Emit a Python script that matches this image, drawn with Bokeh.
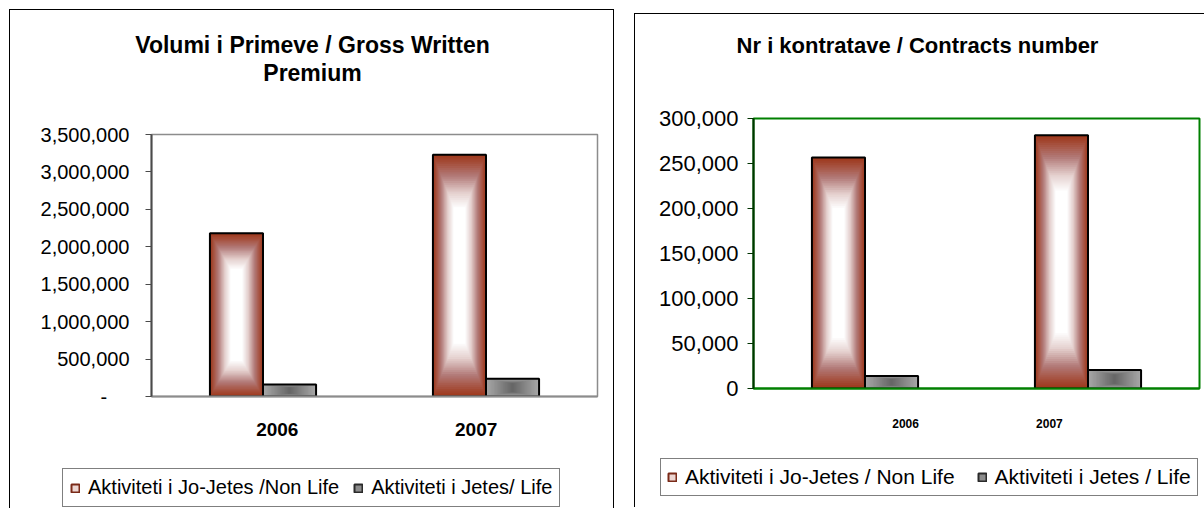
from bokeh.plotting import figure
from bokeh.models import Range1d, FixedTicker, NumeralTickFormatter, Legend, LegendItem
from bokeh.layouts import row, column
from bokeh.core.properties import value
from bokeh.embed import file_html
from bokeh.resources import INLINE

# ---------------- data ----------------
years = ["2006", "2007"]
left_series = ["Aktiviteti i Jo-Jetes /Non Life", "Aktiviteti i Jetes/ Life"]
right_series = ["Aktiviteti i Jo-Jetes / Non Life", "Aktiviteti i Jetes / Life"]
gwp_non_life = [2180000, 3230000]
gwp_life = [160000, 236000]
contracts_non_life = [256600, 281400]
contracts_life = [13900, 20600]
gwp_ticks = [0, 500000, 1000000, 1500000, 2000000, 2500000, 3000000, 3500000]
contract_ticks = [0, 50000, 100000, 150000, 200000, 250000, 300000]
left_title = ["Volumi i Primeve / Gross Written", "Premium"]
right_title = ["Nr i kontratave / Contracts number"]

FONT = "Liberation Sans"
NAN = float("nan")
RED_STOPS = [(0.0, (158, 56, 28)), (0.1, (164, 76, 56)), (0.3, (178, 122, 120)),
             (0.55, (228, 208, 206)), (0.78, (255, 255, 255)), (1.0, (255, 255, 255))]
GRAY_STOPS = [(0.0, (168, 168, 168)), (0.5, (135, 135, 135)), (1.0, (100, 100, 100))]


def interp(stops, t):
    for (t0, c0), (t1, c1) in zip(stops[:-1], stops[1:]):
        if t <= t1:
            f = 0 if t1 == t0 else (t - t0) / (t1 - t0)
            c = [int(round(a + (b - a) * f)) for a, b in zip(c0, c1)]
            return "#%02x%02x%02x" % tuple(c)
    return "#%02x%02x%02x" % stops[-1][1]


def gradient_bars(p, centers, values, width, stops, n=36):
    L, R, B, T, C = [], [], [], [], []
    for cx, v in zip(centers, values):
        for k in range(n):
            t = k / n
            s = 1 - t
            hw = width / 2 * s
            hh = v / 2 * (0.44 + 0.56 * s)
            L.append(cx - hw); R.append(cx + hw)
            B.append(v / 2 - hh); T.append(v / 2 + hh)
            C.append(interp(stops, t))
    p.quad(left=L, right=R, bottom=B, top=T, fill_color=C, line_color=None)
    p.quad(left=[c - width / 2 for c in centers], right=[c + width / 2 for c in centers],
           bottom=[0] * len(values), top=values, fill_alpha=0, line_color="black", line_width=2)


def blank_figure(w, h):
    f = figure(width=w, height=h, x_range=Range1d(0, w), y_range=Range1d(h, 0),
               x_axis_type=None, y_axis_type=None, min_border=0,
               output_backend="svg", toolbar_location=None)
    f.outline_line_color = None
    f.grid.visible = False
    return f


def header(lines, cfg):
    f = blank_figure(cfg["w"], cfg["head_h"])
    ys = [cfg["title_y"] + i * cfg["title_pitch"] for i in range(len(lines))]
    f.text(x=[cfg["title_x"]] * len(lines), y=ys, text=lines, text_align="center",
           text_baseline="middle", text_font=value(FONT), text_font_size=cfg["title_size"],
           text_font_style="bold", text_color="black")
    return f


def footer(series, cfg):
    f = blank_figure(cfg["w"], cfg["foot_h"])
    # legend swatches (no visible marks in the plot area)
    r1 = f.quad(left=[NAN], right=[NAN], bottom=[NAN], top=[NAN], fill_color="#ecd6d2",
                line_color="#7a2a18", line_width=2)
    r2 = f.quad(left=[NAN], right=[NAN], bottom=[NAN], top=[NAN], fill_color="#8c8c8c",
                line_color="#2a2a2a", line_width=2)
    leg = Legend(items=[LegendItem(label=series[0], renderers=[r1]),
                        LegendItem(label=series[1], renderers=[r2])],
                 orientation="horizontal", location=cfg["leg_loc"])
    leg.glyph_width = 10
    leg.glyph_height = 10
    leg.label_standoff = 8
    leg.spacing = cfg["leg_spacing"]
    leg.padding = cfg["leg_pad"]
    leg.margin = 0
    leg.border_line_color = "black"
    leg.border_line_width = 1
    leg.background_fill_color = "white"
    leg.background_fill_alpha = 1
    leg.label_text_font = FONT
    leg.label_text_font_size = cfg["leg_size"]
    leg.label_text_color = "black"
    f.add_layout(leg, "center")
    return f


def chart(non_life, life, ticks, cfg):
    p = figure(width=cfg["w"], height=cfg["chart_h"], x_range=Range1d(0, len(years)),
               y_range=Range1d(ticks[0], ticks[-1]), output_backend="svg", toolbar_location=None,
               min_border_left=cfg["ml"], min_border_right=cfg["mr"],
               min_border_top=cfg["mt"], min_border_bottom=cfg["mb"])
    p.xgrid.visible = False
    p.ygrid.visible = False
    p.outline_line_color = cfg["outline"]
    p.outline_line_width = cfg["outline_w"]

    bw = 0.238
    centers = [i + 0.5 for i in range(len(years))]
    gradient_bars(p, [c - bw / 2 for c in centers], non_life, bw, RED_STOPS)
    gradient_bars(p, [c + bw / 2 for c in centers], life, bw, GRAY_STOPS)

    ya = p.yaxis[0]
    ya.ticker = FixedTicker(ticks=ticks)
    ya.formatter = NumeralTickFormatter(format="0,0")
    if cfg["zero_dash"]:
        ya.major_label_overrides = {0: "-\u00a0\u00a0\u00a0\u00a0"}
    ya.major_tick_out = 6
    ya.major_tick_in = 0
    ya.minor_tick_out = 0
    ya.minor_tick_in = 0
    ya.axis_line_color = cfg["yaxis_color"]
    ya.axis_line_width = 2
    ya.major_tick_line_color = cfg["yaxis_color"]
    ya.major_label_text_font = FONT
    ya.major_label_text_font_size = cfg["ylab_size"]
    ya.major_label_text_color = "black"
    ya.major_label_standoff = cfg["ylab_standoff"]

    xa = p.xaxis[0]
    xa.ticker = FixedTicker(ticks=cfg["xlab_pos"])
    xa.major_label_overrides = {pos: y for pos, y in zip(cfg["xlab_pos"], years)}
    xa.major_tick_out = 0
    xa.major_tick_in = 0
    xa.minor_tick_out = 0
    xa.minor_tick_in = 0
    xa.axis_line_color = cfg["xaxis_color"]
    xa.axis_line_width = 2
    xa.major_label_text_font = FONT
    xa.major_label_text_font_style = "bold"
    xa.major_label_text_font_size = cfg["xlab_size"]
    xa.major_label_text_color = "black"
    xa.major_label_standoff = cfg["xlab_standoff"]
    return p


left_cfg = dict(w=603, head_h=110, chart_h=330, foot_h=58,
                title_x=302, title_y=34, title_pitch=28, title_size="23px",
                ml=141, mr=16, mt=14, mb=54,
                outline="#8c8c8c", outline_w=1.5, zero_dash=True, yaxis_color="#4a4a4a",
                ylab_size="20px", ylab_standoff=16,
                xlab_pos=[0.564, 1.456], xaxis_color="#8c8c8c", xlab_size="19px", xlab_standoff=26,
                leg_loc=(52, 1), leg_pad=7, leg_spacing=14, leg_size="20px")
right_cfg = dict(w=569, head_h=90, chart_h=335, foot_h=68,
                 title_x=282, title_y=31, title_pitch=25, title_size="22px",
                 ml=118, mr=5, mt=14, mb=51,
                 outline="#008000", outline_w=2, zero_dash=False, yaxis_color="#003300",
                 ylab_size="22px", ylab_standoff=9,
                 xlab_pos=[0.682, 1.327], xaxis_color="#008000", xlab_size="12px", xlab_standoff=30,
                 leg_loc=(25, 11), leg_pad=6, leg_spacing=22, leg_size="21px")


def build(title_lines, non_life, life, ticks, series, cfg, border, margin):
    # header/footer wrapped in rows so they keep their own full-width frames
    return column(row(header(title_lines, cfg)), chart(non_life, life, ticks, cfg),
                  row(footer(series, cfg)), spacing=0, margin=margin, styles=border)


col1 = build(left_title, gwp_non_life, gwp_life, gwp_ticks, left_series, left_cfg,
             {"border-left": "1px solid black", "border-top": "1px solid black",
              "border-right": "1px solid black"}, (9, 0, 0, 9))
col2 = build(right_title, contracts_non_life, contracts_life, contract_ticks, right_series, right_cfg,
             {"border-left": "1px solid black", "border-top": "1px solid black"}, (13, 0, 0, 20))

layout = row(col1, col2, spacing=0)
open("out.html", "w").write(file_html(layout, INLINE))
